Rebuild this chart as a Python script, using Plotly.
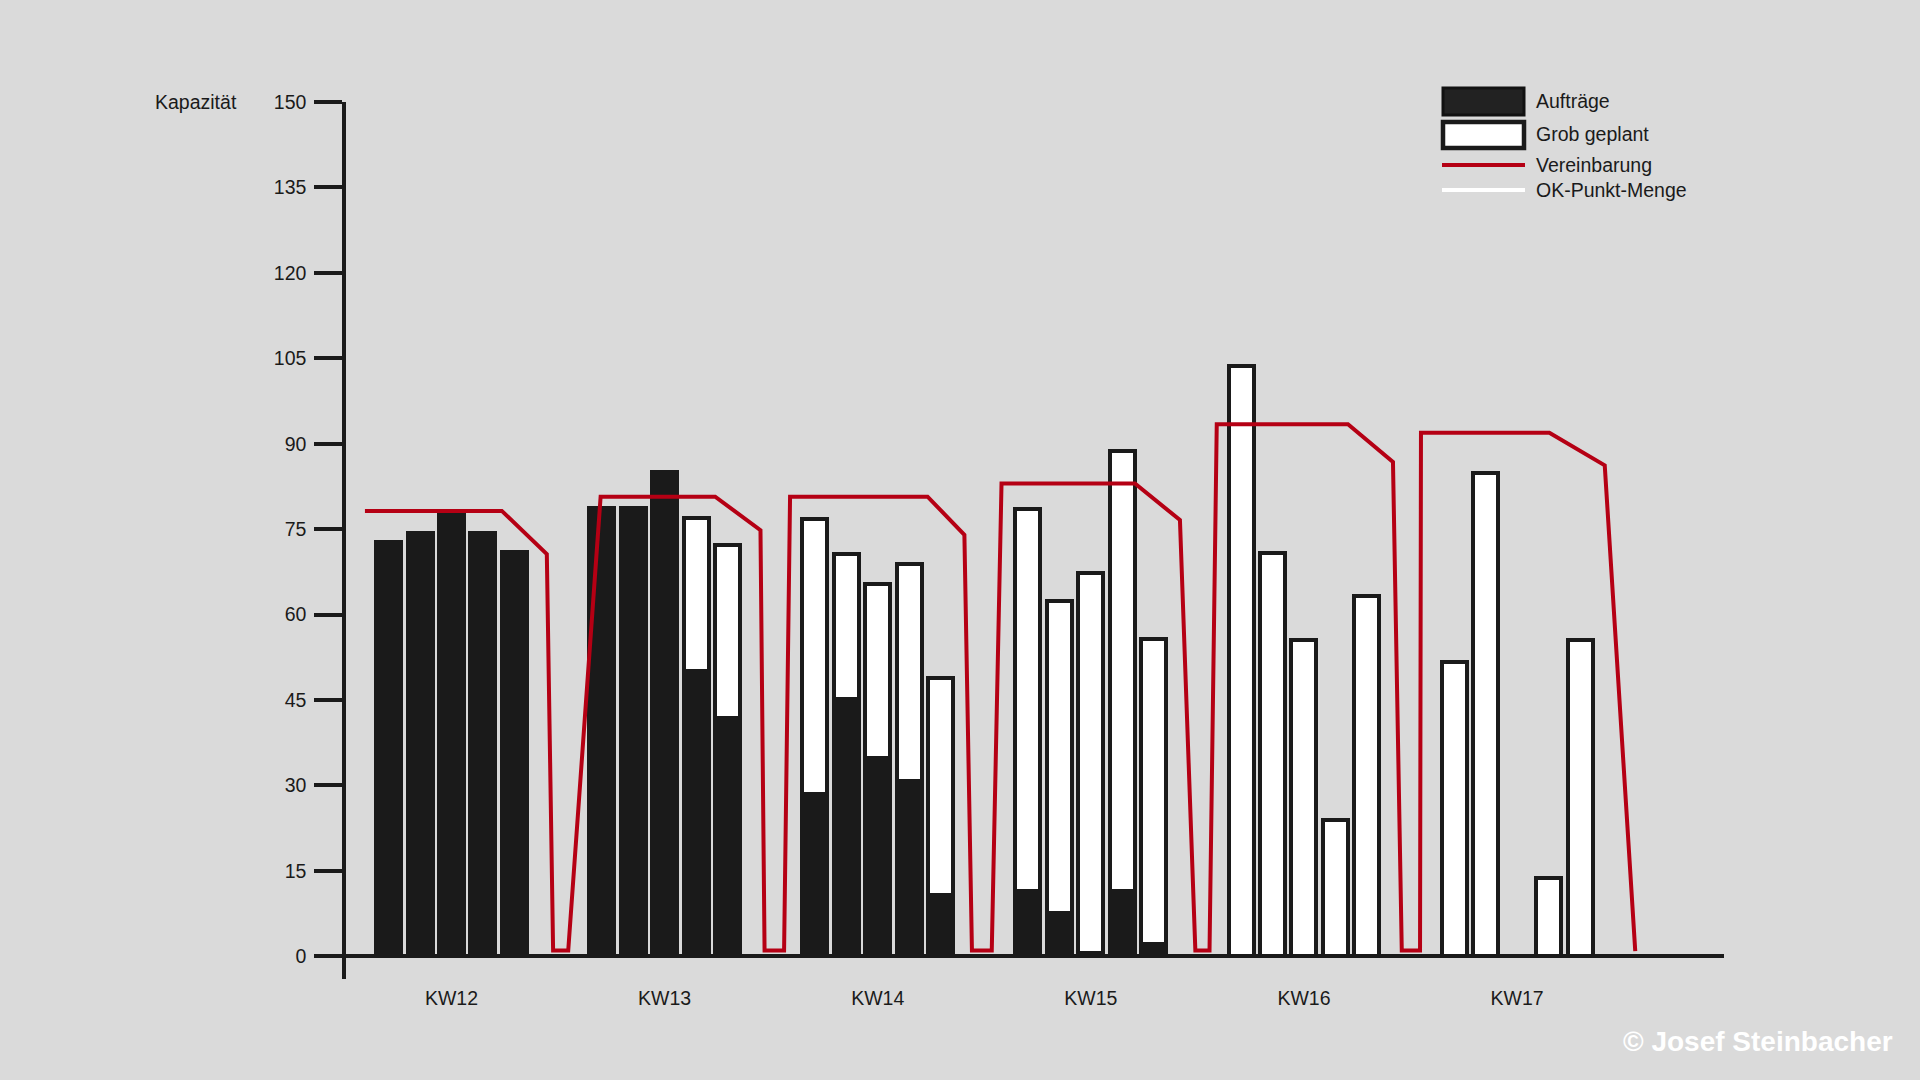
import plotly.graph_objects as go

# Weekly capacity data (Mon-Fri per calendar week)
weeks = ["KW12", "KW13", "KW14", "KW15", "KW16", "KW17"]

auftraege = [
    [72.7, 74.4, 78.1, 74.4, 71.0],
    [78.7, 78.7, 85.1, 50.1, 41.8],
    [28.5, 45.2, 34.8, 30.7, 10.7],
    [11.5, 7.6, 0.5, 11.5, 2.2],
    [None, None, None, None, None],
    [None, None, None, None, None],
]

grob_geplant = [
    [None, None, None, None, None],
    [None, None, None, 26.9, 30.4],
    [48.3, 25.5, 30.5, 38.1, 38.2],
    [67.1, 54.7, 66.8, 77.2, 53.5],
    [103.6, 70.8, 55.5, 23.9, 63.3],
    [51.6, 84.9, None, 13.8, 55.5],
]

# Vereinbarung line, x in working-day positions
vereinbarung_x = [-0.75, 3.60, 5.03, 5.23, 5.71, 6.74, 10.38, 11.82, 11.95, 12.57,
                  12.76, 17.13, 18.30, 18.54, 19.17, 19.48, 23.72, 25.15, 25.64, 26.09,
                  26.32, 30.49, 31.92, 32.20, 32.78, 32.81, 36.89, 38.65, 39.62]
vereinbarung_y = [78.2, 78.2, 70.6, 1, 1, 80.7, 80.7, 74.8, 1, 1,
                  80.7, 80.7, 74.0, 1, 1, 83.0, 83.0, 76.6, 1, 1,
                  93.4, 93.4, 86.8, 1, 1, 91.9, 91.9, 86.2, 0.9]

y_ticks = [0, 15, 30, 45, 60, 75, 90, 105, 120, 135, 150]

WEEK_SPAN = 6.773  # weekend takes less room than two days
BG = "#dadada"
INK = "#1a1a1a"
RED = "#b50014"
FONT = "Liberation Sans"
FS = 19.5

x_pos = [w * WEEK_SPAN + d for w in range(len(weeks)) for d in range(5)]
flat_auf = [v for wk in auftraege for v in wk]
flat_grob = [v for wk in grob_geplant for v in wk]

fig = go.Figure()
fig.add_trace(go.Bar(
    x=x_pos, y=flat_auf, name="Aufträge", width=0.794,
    marker=dict(color=INK, line=dict(color=INK, width=4)),
    showlegend=False,
))
fig.add_trace(go.Bar(
    x=x_pos, y=flat_grob, name="Grob geplant", width=0.794,
    marker=dict(color="white", line=dict(color=INK, width=4)),
    showlegend=False,
))
fig.add_trace(go.Scatter(
    x=vereinbarung_x, y=vereinbarung_y, mode="lines", name="Vereinbarung",
    line=dict(color=RED, width=4), showlegend=False,
))

# plot area in pixels, used to place the hand-made legend
L, R, T, B = 346, 1724, 102, 978.8


def px(x):
    return (x - L) / (R - L)


def py(y):
    return (B - y) / (B - T)


legend_items = [
    ("Aufträge", 101.5),
    ("Grob geplant", 134),
    ("Vereinbarung", 165),
    ("OK-Punkt-Menge", 189.5),
]
shapes = [
    dict(type="rect", xref="paper", yref="paper", x0=px(1443), x1=px(1524),
         y0=py(115), y1=py(88), fillcolor="#222222", line=dict(color="#111111", width=3)),
    dict(type="rect", xref="paper", yref="paper", x0=px(1443), x1=px(1524),
         y0=py(148), y1=py(122), fillcolor="white", line=dict(color=INK, width=4.5)),
    dict(type="line", xref="paper", yref="paper", x0=px(1442), x1=px(1525),
         y0=py(165), y1=py(165), line=dict(color=RED, width=4)),
    dict(type="line", xref="paper", yref="paper", x0=px(1442), x1=px(1525),
         y0=py(190), y1=py(190), line=dict(color="white", width=4)),
]
annotations = [
    dict(text=t, xref="paper", yref="paper", x=px(1534), y=py(yy), xanchor="left",
         yanchor="middle", showarrow=False, font=dict(family=FONT, size=FS, color=INK))
    for t, yy in legend_items
]
annotations.append(dict(
    text="Kapazität", xref="paper", yref="paper", x=px(153), y=py(101.7),
    xanchor="left", yanchor="middle", showarrow=False,
    font=dict(family=FONT, size=FS, color=INK),
))
annotations.append(dict(
    text="© Josef Steinbacher", xref="paper", yref="paper", x=px(1895), y=py(1041),
    xanchor="right", yanchor="middle", showarrow=False,
    font=dict(family=FONT, size=28, color="white", weight="bold"),
))

fig.update_layout(
    width=1920, height=1080,
    margin=dict(l=L, r=1920 - R, t=T, b=1080 - B),
    paper_bgcolor=BG, plot_bgcolor=BG,
    barmode="stack", bargap=0,
    shapes=shapes, annotations=annotations,
    font=dict(family=FONT, size=FS, color=INK),
    xaxis=dict(
        range=[-1.352, 42.44], showgrid=False, zeroline=False, showline=False,
        tickvals=[w * WEEK_SPAN + 2 for w in range(len(weeks))], ticktext=weeks,
        ticks="", ticklabelstandoff=5, tickfont=dict(size=FS, color=INK),
    ),
    yaxis=dict(
        range=[-4, 150], tickvals=y_ticks, showgrid=False,
        showline=True, linecolor=INK, linewidth=3.5,
        ticks="outside", ticklen=28, tickwidth=4, tickcolor=INK,
        ticklabelstandoff=4, tickfont=dict(size=FS, color=INK),
        zeroline=True, zerolinecolor=INK, zerolinewidth=4,
    ),
)

fig.write_html(
    "out.html",
    config={"displayModeBar": False},
    post_script="document.body.style.margin='0';",
)
